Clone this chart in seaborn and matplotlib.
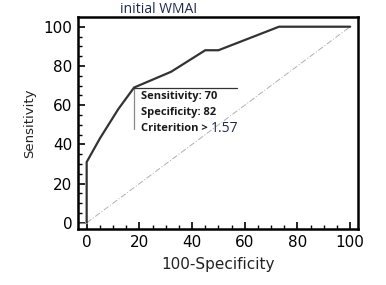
import numpy as np
import pandas as pd
import seaborn as sns
import matplotlib.pyplot as plt

# ROC curve points
fpr = [0, 0, 5, 12, 18, 32, 45, 50, 73, 100]
sens = [0, 31, 43, 58, 69, 77, 88, 88, 100, 100]
diag = [0, 100]

ticks = [0, 20, 40, 60, 80, 100]
cut_x, cut_y = 18, 69
stats_lines = ["Sensitivity: 70", "Specificity: 82", "Criterition > "]
crit_value = "1.57"

df = pd.DataFrame({"100-Specificity": fpr, "Sensitivity": sens})
df_diag = pd.DataFrame({"x": diag, "y": diag})

sns.set_theme(style="ticks")
plt.rcParams['font.family'] = ['DejaVu Sans']

fig = plt.figure(figsize=(3.86, 2.85), dpi=100)
ax = fig.add_axes([0.202, 0.196, 0.725, 0.744])

sns.lineplot(data=df_diag, x="x", y="y", ax=ax, color="#b0b0b0", lw=0.7,
             linestyle=(0, (6, 2, 1, 2)), sort=False)
sns.lineplot(data=df, x="100-Specificity", y="Sensitivity", ax=ax,
             color="#333333", lw=1.6, sort=False, estimator=None)

# small stub at the origin
ax.plot([-3.3, 0], [0, 0], color="#888888", lw=0.8)

# cut-off marker lines
ax.plot([cut_x, cut_x], [cut_y, 48], color="#888888", lw=0.9)
ax.plot([cut_x, 57], [cut_y, cut_y], color="#333333", lw=0.9)

ys = [64.2, 56.2, 48.2]
last = None
for s, yv in zip(stats_lines, ys):
    last = ax.text(20.8, yv, s, fontsize=8, fontweight="bold", color="#1a1a1a",
                   family=["Open Sans", "DejaVu Sans"], va="center", ha="left")
ax.annotate(crit_value, xy=(1, 0.5), xycoords=last, fontsize=10,
            color="#1f2a4d", family=["Open Sans", "DejaVu Sans"],
            va="center", ha="left")

ax.set_xlim(-3.3, 102.9)
ax.set_ylim(-3.2, 104.9)
ax.set_xticks(ticks)
ax.set_yticks(ticks)
ax.set_xticks(np.arange(0, 101, 5), minor=True)
ax.set_yticks(np.arange(0, 101, 5), minor=True)
ax.tick_params(axis="both", which="major", direction="in", length=5, width=1.2,
               labelsize=11, colors="black", pad=4)
ax.tick_params(axis="both", which="minor", direction="in", length=3, width=1.0,
               colors="black")
ax.tick_params(axis="y", which="both", right=False)
for sp in ax.spines.values():
    sp.set_visible(True)
    sp.set_linewidth(1.8)
    sp.set_color("black")

ax.set_xlabel("100-Specificity", fontsize=11, labelpad=5, color="#222222")
ax.set_ylabel("Sensitivity", fontsize=9.5, labelpad=5, color="#222222")

fig.text(0.41, 0.968, "initial WMAI", fontsize=10, color="#1f2a4d",
         family=["Open Sans", "DejaVu Sans"], ha="center", va="center")

fig.savefig("out.png", dpi=100, facecolor="white")
